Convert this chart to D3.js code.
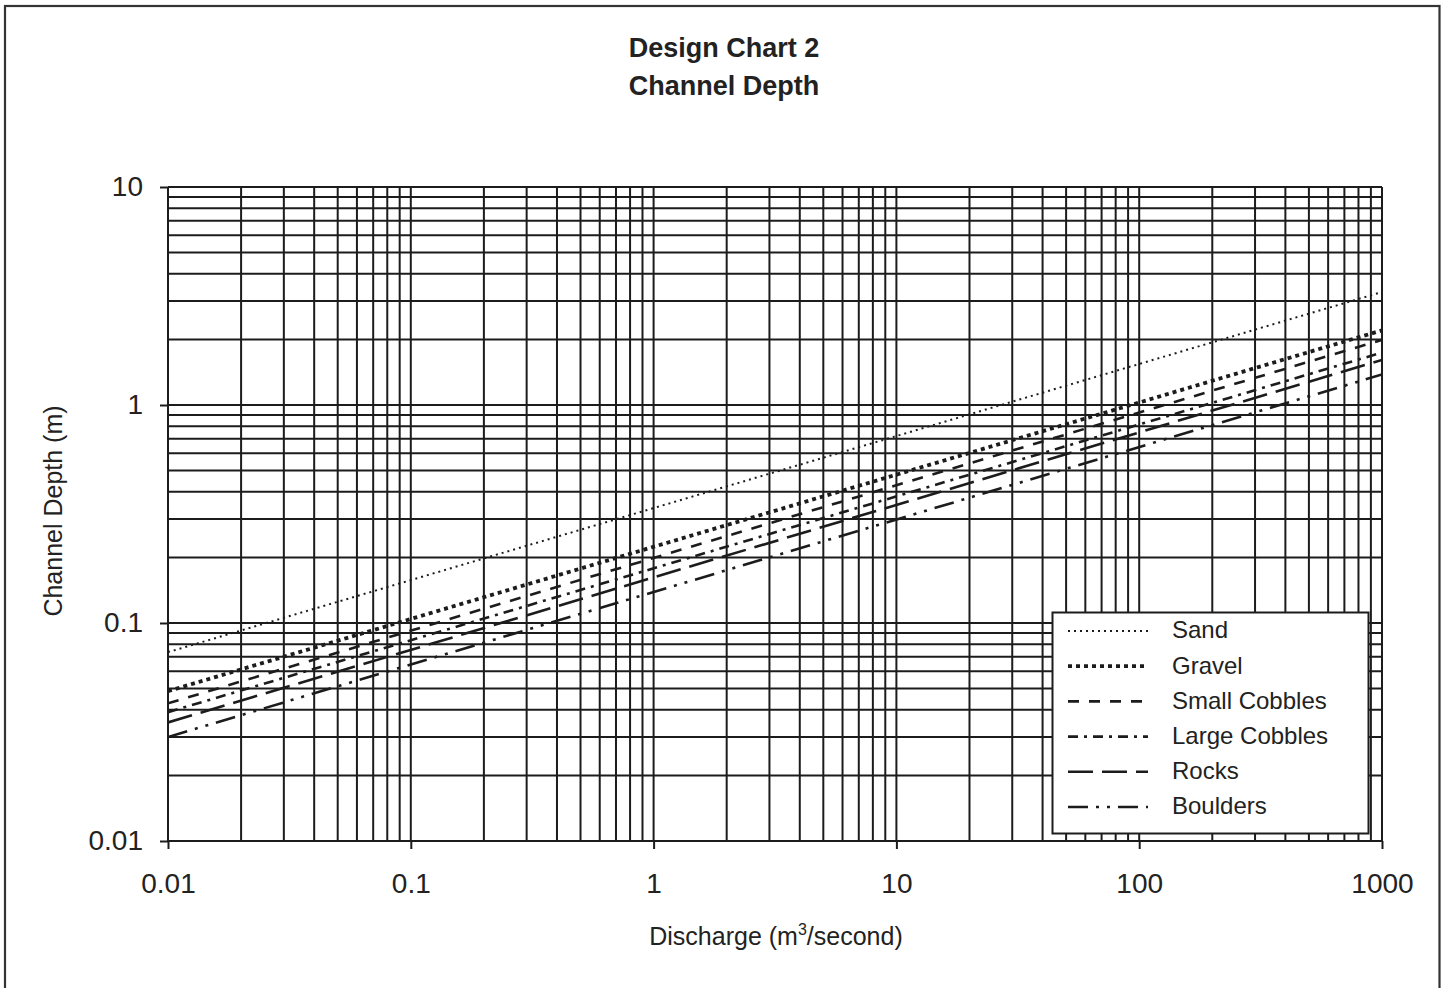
<!DOCTYPE html>
<html>
<head>
<meta charset="utf-8">
<script src="https://cdn.jsdelivr.net/npm/d3@7"></script>
<style>
  html, body { margin: 0; padding: 0; background: #fff; }
  svg { display: block; font-family: "Liberation Sans", Arial, sans-serif; }
</style>
</head>
<body>
<svg id="chart" width="1445" height="988"></svg>
<script>
// series (straight lines on log-log axes)
const seriesNames = ["Sand", "Gravel", "Small Cobbles", "Large Cobbles", "Rocks", "Boulders"];
const discharge = [0.01, 1000];
const sand = [0.0735, 3.3];
const gravel = [0.0487, 2.2];
const smallCobbles = [0.0428, 1.99];
const largeCobbles = [0.039, 1.74];
const rocks = [0.035, 1.61];
const boulders = [0.030, 1.38];

const xTickValues = [0.01, 0.1, 1, 10, 100, 1000];
const xTickLabels = ["0.01", "0.1", "1", "10", "100", "1000"];
const yTickValues = [0.01, 0.1, 1, 10];
const yTickLabels = ["0.01", "0.1", "1", "10"];

const depths = [sand, gravel, smallCobbles, largeCobbles, rocks, boulders];
const dashes = ["2,4", "4,4", "11,10", "10,6,3,6", "25,9", "20,8,3,8,3,8"];
const widths = [2, 3.8, 2.6, 2.6, 2.6, 2.6];

const margin = {left: 168, top: 187, right: 1382, bottom: 841};
const ink = "#1c1c1c";

const svg = d3.select("#chart");

// outer frame
svg.append("rect")
  .attr("x", 5).attr("y", 6)
  .attr("width", 1434.5).attr("height", 1000)
  .style("fill", "none").style("stroke", "#333").style("stroke-width", 2.2);

const x = d3.scaleLog().domain([0.01, 1000]).range([margin.left, margin.right]);
const y = d3.scaleLog().domain([0.01, 10]).range([margin.bottom, margin.top]);

// grid
const grid = svg.append("g").style("stroke", ink).style("stroke-width", 2);
grid.selectAll(".vg")
  .data(x.ticks())
  .join("line")
  .attr("x1", d => x(d)).attr("x2", d => x(d))
  .attr("y1", margin.top).attr("y2", margin.bottom);
grid.selectAll(".hg")
  .data(y.ticks())
  .join("line")
  .attr("x1", margin.left).attr("x2", margin.right)
  .attr("y1", d => y(d)).attr("y2", d => y(d));

// axes
const xAxis = d3.axisBottom(x)
  .tickValues(xTickValues)
  .tickFormat((d, i) => xTickLabels[i])
  .tickSize(8).tickPadding(24);
const yAxis = d3.axisLeft(y)
  .tickValues(yTickValues)
  .tickFormat((d, i) => yTickLabels[i])
  .tickSize(8).tickPadding(17);

const gx = svg.append("g").attr("transform", "translate(0," + margin.bottom + ")").call(xAxis);
const gy = svg.append("g").attr("transform", "translate(" + margin.left + ",0)").call(yAxis);
[gx, gy].forEach(g => {
  g.select(".domain").remove();
  g.selectAll(".tick line").style("stroke", ink).style("stroke-width", 2);
  g.selectAll(".tick text")
    .style("font-size", "28px")
    .style("fill", "#222")
    .style("font-family", "'Liberation Sans', Arial, sans-serif");
});
gx.selectAll(".tick text").attr("dy", "0.71em");

// series lines
svg.append("clipPath").attr("id", "plotclip")
  .append("rect")
  .attr("x", margin.left).attr("y", margin.top)
  .attr("width", margin.right - margin.left).attr("height", margin.bottom - margin.top);

const line = d3.line().x(d => x(d[0])).y(d => y(d[1]));

svg.append("g").attr("clip-path", "url(#plotclip)")
  .selectAll("path")
  .data(depths)
  .join("path")
  .attr("d", d => line(discharge.map((q, i) => [q, d[i]])))
  .style("fill", "none")
  .style("stroke", ink)
  .style("stroke-width", (d, i) => widths[i])
  .style("stroke-dasharray", (d, i) => dashes[i]);

// legend
const legend = svg.append("g");
legend.append("rect")
  .attr("x", 1052.5).attr("y", 612.5)
  .attr("width", 316).attr("height", 221)
  .style("fill", "#fff").style("stroke", ink).style("stroke-width", 2);

const rows = legend.selectAll(".row")
  .data(seriesNames)
  .join("g")
  .attr("transform", (d, i) => "translate(0," + (630 + i * 35.2) + ")");
rows.append("line")
  .attr("x1", 1068).attr("x2", 1148)
  .attr("y1", 1).attr("y2", 1)
  .style("stroke", ink)
  .style("stroke-width", (d, i) => widths[i])
  .style("stroke-dasharray", (d, i) => dashes[i]);
rows.append("text")
  .attr("x", 1172).attr("dy", "0.35em")
  .style("font-size", "24px").style("fill", "#222")
  .text(d => d);

// titles
svg.append("text")
  .attr("x", 724).attr("y", 57)
  .attr("text-anchor", "middle")
  .style("font-size", "27px").style("font-weight", "bold").style("fill", "#222")
  .text("Design Chart 2");
svg.append("text")
  .attr("x", 724).attr("y", 95)
  .attr("text-anchor", "middle")
  .style("font-size", "27px").style("font-weight", "bold").style("fill", "#222")
  .text("Channel Depth");

const xt = svg.append("text")
  .attr("x", 776).attr("y", 945)
  .attr("text-anchor", "middle")
  .style("font-size", "25px").style("fill", "#222");
xt.append("tspan").text("Discharge (m");
xt.append("tspan").attr("dy", -10).style("font-size", "16px").text("3");
xt.append("tspan").attr("dy", 10).text("/second)");

svg.append("text")
  .attr("transform", "translate(62,511) rotate(-90)")
  .attr("text-anchor", "middle")
  .style("font-size", "25px").style("fill", "#222")
  .text("Channel Depth (m)");
</script>
</body>
</html>
